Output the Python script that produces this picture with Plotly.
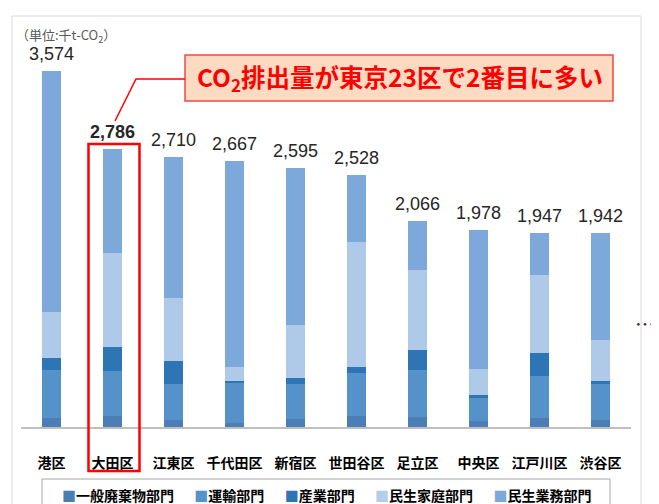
import plotly.graph_objects as go

# ---------------- data ----------------
categories = ["港区", "大田区", "江東区", "千代田区", "新宿区",
              "世田谷区", "足立区", "中央区", "江戸川区", "渋谷区"]
waste = [86, 110, 66, 43, 77, 111, 100, 60, 86, 66]            # 一般廃棄物部門
transport = [482, 452, 370, 396, 357, 434, 471, 234, 425, 362]  # 運輸部門
industry = [127, 241, 225, 24, 60, 53, 197, 27, 226, 34]        # 産業部門
household = [459, 937, 631, 134, 530, 1258, 802, 264, 782, 408]  # 民生家庭部門
commercial = [2420, 1046, 1418, 2070, 1571, 672, 496, 1393, 428, 1072]  # 民生業務部門
series_names = ["一般廃棄物部門", "運輸部門", "産業部門", "民生家庭部門", "民生業務部門"]
highlight = "大田区"
unit_label = "（単位:千t-CO<sub>2</sub>）"
headline = "CO<sub>2</sub>排出量が東京23区で2番目に多い"

totals = [a + b + c + d + e for a, b, c, d, e in
          zip(waste, transport, industry, household, commercial)]

# ---------------- style ----------------
JP = "Noto Sans CJK JP, Noto Sans, sans-serif"
NUM = "Liberation Sans Narrow, Arial Narrow, Liberation Sans, sans-serif"
W, H = 659, 504
ML, MR, MT, MB = 13, 36, 30, 85
PW, PH = W - ML - MR, H - MT - MB


def px(x):
    return (x - ML) / PW


def py(y):
    return (H - MB - y) / PH


fig = go.Figure()
series = [waste, transport, industry, household, commercial]
colors = ["#4A7EB4", "#5592CA", "#2E75B6", "#B3CDEB", "#7CA8DA"]
for name, vals, col in zip(series_names, series, colors):
    marker = dict(color=col, line=dict(width=0))
    if name == "民生家庭部門":
        marker = dict(color="#8DB3E0", line=dict(width=0),
                      pattern=dict(shape=".", fgcolor="#6E9FD6", bgcolor="#E2ECF8",
                                   size=2, solidity=0.5, fillmode="replace"))
    fig.add_trace(go.Bar(x=categories, y=vals, name=name, marker=marker,
                         width=0.31, hoverinfo="skip", showlegend=False))

annotations = []
for c, t in zip(categories, totals):
    txt = f"{t:,}"
    if c == highlight:
        txt = f"<b>{txt}</b>"
    annotations.append(dict(x=c, y=t, xref="x", yref="y", text=txt, showarrow=False,
                            yshift=17, yanchor="middle",
                            font=dict(family=NUM, size=18, color="#262626")))

annotations.append(dict(x=px(6), y=py(27), xref="paper", yref="paper", xanchor="left",
                        yanchor="middle", text=unit_label, showarrow=False,
                        font=dict(family=JP, size=13, color="#595959")))
annotations.append(dict(x=px(392), y=py(70), xref="paper", yref="paper",
                        text=f"<b>{headline}</b>", showarrow=False,
                        xanchor="center", yanchor="middle",
                        font=dict(family=JP, size=24.5, color="#FF0000")))
annotations.append(dict(x=px(637), y=py(315), xref="paper", yref="paper",
                        text="…", showarrow=False, xanchor="center", yanchor="middle",
                        font=dict(family=JP, size=20, color="#333333")))

# legend (compact, icon right next to label as in the reference)
legend_parts = [f'<span style="color:{col}">■</span>{name}'
                for name, col in zip(series_names, colors)]
annotations.append(dict(x=px(318), y=py(487), xref="paper", yref="paper",
                        text="<b>" + "　&nbsp;&nbsp;".join(legend_parts) + "</b>",
                        showarrow=False, xanchor="center", yanchor="middle",
                        font=dict(family=JP, size=14, color="#000000")))

shapes = [
    # outer frame
    dict(type="rect", xref="paper", yref="paper", x0=px(4), x1=px(633), y0=py(503), y1=py(8),
         line=dict(color="#D9D9D9", width=1), fillcolor="rgba(0,0,0,0)", layer="below"),
    # legend box
    dict(type="rect", xref="paper", yref="paper", x0=px(34), x1=px(602), y0=py(502), y1=py(471),
         line=dict(color="#A6A6A6", width=1), fillcolor="rgba(0,0,0,0)"),
    # headline box
    dict(type="rect", xref="paper", yref="paper", x0=px(177), x1=px(605), y0=py(93), y1=py(47),
         line=dict(color="#F04848", width=1.5), fillcolor="#FDDBC3", layer="above"),
    # connector
    dict(type="path", xref="paper", yref="paper",
         path=f"M {px(177)},{py(71)} L {px(128)},{py(71)} L {px(107)},{py(113)}",
         line=dict(color="#FF0000", width=1.5)),
    # highlight box
    dict(type="rect", xref="paper", yref="paper", x0=px(80.5), x1=px(131.5), y0=py(463), y1=py(136),
         line=dict(color="#FF0000", width=2.5), fillcolor="rgba(0,0,0,0)"),
]

fig.update_layout(
    width=W, height=H, barmode="stack",
    margin=dict(l=ML, r=MR, t=MT, b=MB, pad=0),
    paper_bgcolor="white", plot_bgcolor="white",
    showlegend=False,
    xaxis=dict(type="category", range=[-0.5, 9.5], showline=True, linecolor="#BFBFBF",
               linewidth=1.5, ticks="", showgrid=False, zeroline=False,
               tickfont=dict(family=JP, size=14, color="#000000", weight="bold"),
               ticklabelstandoff=22, fixedrange=True),
    yaxis=dict(range=[0, 3900], visible=False, showgrid=False, zeroline=False, fixedrange=True),
    annotations=annotations, shapes=shapes,
)

fig.write_html("out.html")
